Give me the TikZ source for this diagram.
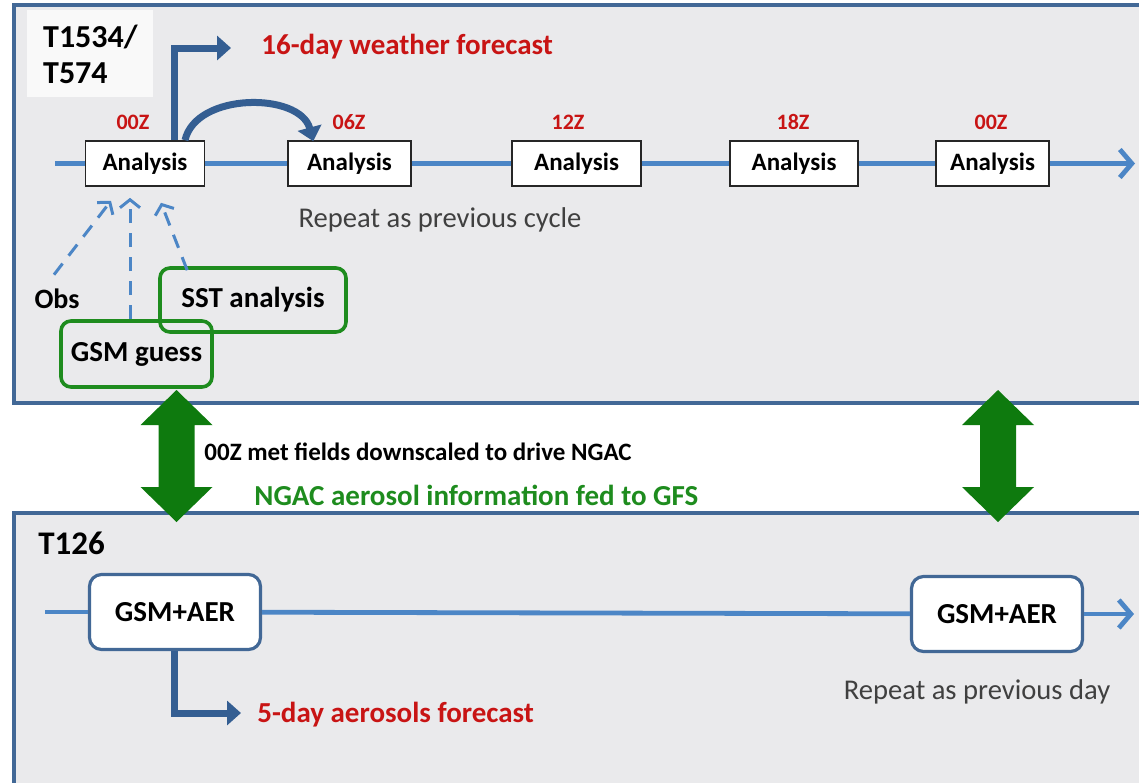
\documentclass[tikz,border=0pt]{standalone}
\usepackage{fontspec}
\setmainfont{Carlito}
\usetikzlibrary{arrows.meta,calc}
\definecolor{panelfill}{RGB}{234,234,236}
\definecolor{panelline}{RGB}{66,104,150}
\definecolor{flowblue}{RGB}{76,134,198}
\definecolor{fcblue}{RGB}{52,94,146}
\definecolor{fcred}{RGB}{200,20,20}
\definecolor{boxgreen}{RGB}{30,140,30}
\definecolor{feedgreen}{RGB}{14,122,14}
\definecolor{notegray}{RGB}{64,64,64}
\tikzset{
  panel/.style={draw=panelline, line width=1.6pt, fill=panelfill},
  anabox/.style={draw=black!85, fill=white, line width=0.8pt, minimum height=22.5pt,
    inner sep=0pt, font=\fontsize{12.5}{14}\selectfont\bfseries},
  ztag/.style={text=fcred, inner sep=0pt, font=\fontsize{11}{13}\selectfont\bfseries},
  inbox/.style={draw=boxgreen, line width=1.8pt, rounded corners=5pt, inner sep=0pt,
    font=\fontsize{14.5}{16}\selectfont\bfseries},
  aerbox/.style={draw=panelline, line width=1.6pt, fill=white, rounded corners=6pt,
    minimum height=37.5pt, minimum width=85.5pt, inner sep=0pt,
    font=\fontsize{14.5}{16}\selectfont\bfseries},
  flow/.style={draw=flowblue, line width=2.4pt},
  flowend/.style={flow, -{Straight Barb[length=6pt,width=14pt]}},
  feed/.style={draw=flowblue, line width=1.5pt, dash pattern=on 7pt off 5pt,
    -{Straight Barb[length=4pt,width=10pt]}},
  fcarrow/.style={draw=fcblue, line width=3.5pt, -{Triangle[length=7pt,width=12pt]}},
  fctext/.style={anchor=west, inner sep=0pt, text=fcred, font=\fontsize{14.5}{16}\selectfont\bfseries},
  note/.style={inner sep=0pt, text=notegray, font=\fontsize{14.3}{16}\selectfont},
}
\begin{document}
\begin{tikzpicture}[x=0.5pt, y=-0.5pt]
  \useasboundingbox (0,0) rectangle (1139,782);
  \clip (0,0) rectangle (1139,782);
  \draw[panel] (14,5) rectangle (1150,403);
  \draw[panel] (14,513) rectangle (1150,800);
  \node[fill=white!70!panelfill, anchor=north west, align=left, minimum width=63pt,
    minimum height=43.5pt, inner sep=0pt, font=\fontsize{16}{18}\selectfont\bfseries] (res1) at (27,10) {T1534/\\T574};

  \coordinate (ts) at (55,163.5);
  \coordinate (te) at (1135,163.5);
  \foreach \n/\x/\w/\z/\zx in {1/145/59.5/00Z/133, 2/349.5/61.5/06Z/349, 3/576.5/64.5/12Z/568,
    4/794/64/18Z/793, 5/992.5/56.5/00Z/991} {
    \node[anabox, minimum width=\w pt] (a\n) at (\x,163.5) {Analysis};
    \node[ztag] (z\n) at (\zx,122) {\z};
  }
  \draw[flow] (ts) -- (a1);
  \foreach \i/\j in {1/2,2/3,3/4,4/5} \draw[flow] (a\i) -- (a\j);
  \draw[flowend] (a5) -- (te);

  \node[fctext] (fc16) at (261,47) {16-day weather forecast};
  \coordinate (fcend) at (231,48);
  \draw[fcarrow] ($(a1.north)+(29,0)$) |- (fcend);
  \draw[fcarrow] ($(a1.north)+(40,0)$) .. controls (196,92) and (300,92) .. ($(a2.north west)+(26,1)$);
  \node[note] (rep1) at (440,220) {Repeat as previous cycle};

  \node[inner sep=0pt, font=\fontsize{14}{16}\selectfont\bfseries] (obs) at (57,299) {Obs};
  \node[inbox, minimum width=93pt, minimum height=32pt] (sst) at (253,300) {SST analysis};
  \node[inbox, minimum width=75.5pt, minimum height=33pt] (gsm) at (136.5,354) {GSM guess};
  \draw[feed] ($(obs.north)+(-3,-14)$) -- ($(a1.south)+(-34,14)$);
  \draw[feed] ($(gsm.north)+(-6.5,0)$) -- ($(a1.south)+(-15,11)$);
  \draw[feed] ($(sst.north west)+(29,4)$) -- ($(a1.south)+(16,16)$);

  \foreach \x in {176.5,998}
    \fill[feedgreen] (\x,390) -- (\x+36,425) -- (\x+18,425) -- (\x+18,487) -- (\x+36,487)
      -- (\x,522) -- (\x-36,487) -- (\x-18,487) -- (\x-18,425) -- (\x-36,425) -- cycle;
  \node[anchor=west, inner sep=0pt, font=\fontsize{12.5}{14}\selectfont\bfseries] (metf) at (204,452)
    {00Z met fields downscaled to drive NGAC};
  \node[anchor=west, inner sep=0pt, text=boxgreen, font=\fontsize{14.5}{16}\selectfont\bfseries] (ngac) at (254,495)
    {NGAC aerosol information fed to GFS};

  \node[anchor=west, inner sep=0pt, font=\fontsize{16.5}{18}\selectfont\bfseries] (res2) at (38,543) {T126};
  \coordinate (bs) at (45,612);
  \coordinate (be) at (1134,614);
  \node[aerbox] (g1) at (175,612) {GSM+AER};
  \node[aerbox] (g2) at (997,614) {GSM+AER};
  \draw[flow] (bs) -- (g1);
  \draw[flow] (g1) -- (g2);
  \draw[flowend] (g2) -- (be);
  \node[fctext] (fc5) at (257,715) {5-day aerosols forecast};
  \coordinate (fc5end) at (241,713);
  \draw[fcarrow] ($(g1.south)+(-1,0)$) |- (fc5end);
  \node[note] (rep2) at (977,692) {Repeat as previous day};
\end{tikzpicture}
\end{document}
